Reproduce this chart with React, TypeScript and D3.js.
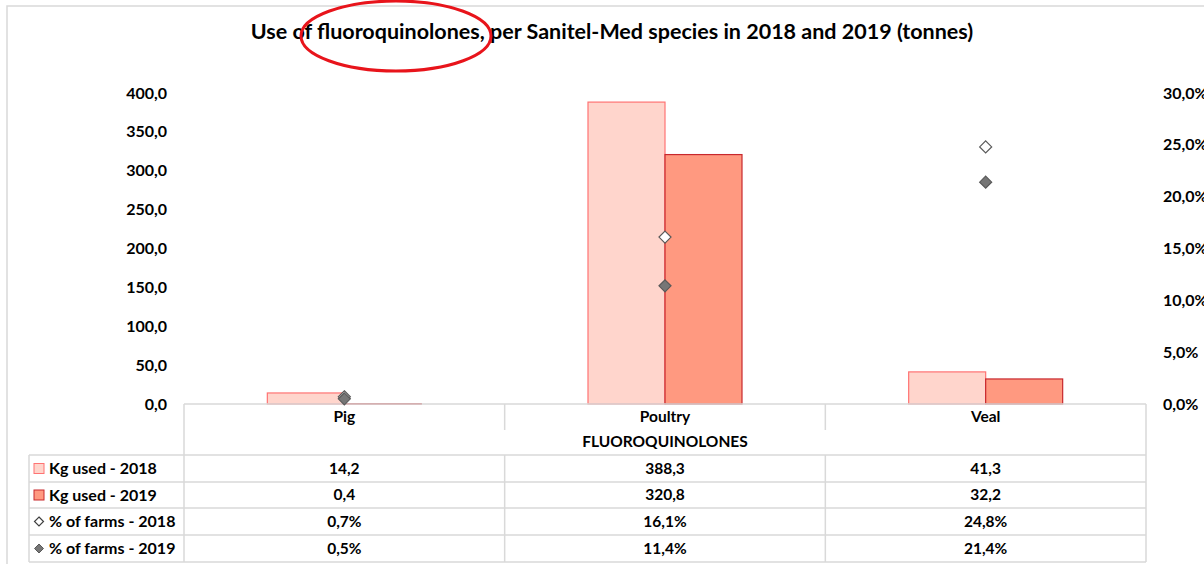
import React from "react";
import * as d3 from "d3";

const categories = ["Pig", "Poultry", "Veal"];
const kg2018 = [14.2, 388.3, 41.3];
const kg2019 = [0.4, 320.8, 32.2];
const farms2018 = [0.7, 16.1, 24.8];
const farms2019 = [0.5, 11.4, 21.4];
const leftTicks = [0, 50, 100, 150, 200, 250, 300, 350, 400];
const rightTicks = [0, 5, 10, 15, 20, 25, 30];
const groupLabel = "FLUOROQUINOLONES";
const title = "Use of fluoroquinolones, per Sanitel-Med species in 2018 and 2019 (tonnes)";

const locale = d3.formatLocale({ decimal: ",", thousands: ".", grouping: [3], currency: ["", "€"] });
const fmt1 = locale.format(".1f");

const W = 1204;
const H = 564;
const FONT = "Lato, 'Open Sans', sans-serif";

const App = () => {
  const plotLeft = 184;
  const plotRight = 1146;
  const yTop = 93;
  const yBase = 404;

  const x = d3.scaleBand().domain(categories).range([plotLeft, plotRight]).paddingInner(0).paddingOuter(0);
  const yKg = d3.scaleLinear().domain([0, 400]).range([yBase, yTop]);
  const yPct = d3.scaleLinear().domain([0, 30]).range([yBase, yTop]);
  const barW = 77;

  const rowLines = [455, 482, 508, 535, 562];
  const legendLeft = 29;

  const rows = [
    { label: "Kg used - 2018", vals: kg2018.map((v) => fmt1(v)), icon: "sq18" },
    { label: "Kg used - 2019", vals: kg2019.map((v) => fmt1(v)), icon: "sq19" },
    { label: "% of farms - 2018", vals: farms2018.map((v) => fmt1(v) + "%"), icon: "d18" },
    { label: "% of farms - 2019", vals: farms2019.map((v) => fmt1(v) + "%"), icon: "d19" },
  ];

  const diamond = (cx: number, cy: number, r: number) =>
    `M${cx},${cy - r}L${cx + r},${cy}L${cx},${cy + r}L${cx - r},${cy}Z`;

  const gridColor = "#d9d9d9";
  const fs = 15.5;

  return (
    <svg width={W} height={H} style={{ position: "absolute", left: 0, top: 0, background: "#fff" }} fontFamily={FONT}>
      {/* chart frame */}
      <rect x={7} y={6} width={W + 10} height={H + 10} fill="none" stroke={gridColor} strokeWidth={1.5} />

      <text x={612} y={39} textAnchor="middle" fontSize={21.5} fontWeight={700} fill="#000">
        {title}
      </text>

      {/* left axis */}
      {leftTicks.map((t) => (
        <text key={"l" + t} x={167} y={yKg(t)} dy="0.35em" textAnchor="end" fontSize={16} fontWeight={700}>
          {fmt1(t)}
        </text>
      ))}
      {/* right axis */}
      {rightTicks.map((t) => (
        <text key={"r" + t} x={1163} y={yPct(t)} dy="0.35em" textAnchor="start" fontSize={16} fontWeight={700}>
          {fmt1(t) + "%"}
        </text>
      ))}

      {/* bars */}
      {categories.map((c, i) => {
        const cx = x(c)! + x.bandwidth() / 2;
        return (
          <g key={"b" + c}>
            <rect x={cx - barW} y={yKg(kg2018[i])} width={barW} height={yBase - yKg(kg2018[i])}
              fill="#ffd5cc" stroke="#ff7373" strokeWidth={1.2} />
            <rect x={cx} y={yKg(kg2019[i])} width={barW} height={yBase - yKg(kg2019[i])}
              fill="#ff9980" stroke="#c8282d" strokeWidth={1.2} />
          </g>
        );
      })}

      {/* table lines */}
      <line x1={plotLeft} x2={plotRight} y1={yBase} y2={yBase} stroke={gridColor} strokeWidth={1.5} />
      <line x1={plotLeft} x2={plotLeft} y1={yBase} y2={rowLines[rowLines.length - 1]} stroke={gridColor} strokeWidth={1.5} />
      <line x1={plotRight} x2={plotRight} y1={yBase} y2={rowLines[rowLines.length - 1]} stroke={gridColor} strokeWidth={1.5} />
      {categories.slice(1).map((c) => (
        <line key={"hv" + c} x1={x(c)!} x2={x(c)!} y1={yBase} y2={430} stroke={gridColor} strokeWidth={1.5} />
      ))}
      {categories.slice(1).map((c) => (
        <line key={"tv" + c} x1={x(c)!} x2={x(c)!} y1={rowLines[0]} y2={rowLines[rowLines.length - 1]} stroke={gridColor} strokeWidth={1.5} />
      ))}
      <line x1={legendLeft} x2={legendLeft} y1={rowLines[0]} y2={rowLines[rowLines.length - 1]} stroke={gridColor} strokeWidth={1.5} />
      {rowLines.map((ry) => (
        <line key={"h" + ry} x1={legendLeft} x2={plotRight} y1={ry} y2={ry} stroke={gridColor} strokeWidth={1.5} />
      ))}

      {/* diamonds */}
      {categories.map((c, i) => {
        const cx = x(c)! + x.bandwidth() / 2;
        return (
          <g key={"d" + c}>
            <path d={diamond(cx, yPct(farms2018[i]), 6)} fill="#fff" stroke="#595959" strokeWidth={1.2} />
            <path d={diamond(cx, yPct(farms2019[i]), 6)} fill="#767676" stroke="#595959" strokeWidth={1.2} />
          </g>
        );
      })}

      {/* category header */}
      {categories.map((c) => (
        <text key={"c" + c} x={x(c)! + x.bandwidth() / 2} y={417} dy="0.35em" textAnchor="middle" fontSize={fs} fontWeight={700}>
          {c}
        </text>
      ))}
      <text x={(plotLeft + plotRight) / 2} y={442} dy="0.35em" textAnchor="middle" fontSize={fs} fontWeight={700}>
        {groupLabel}
      </text>

      {/* data table rows */}
      {rows.map((r, ri) => {
        const cy = (rowLines[ri] + rowLines[ri + 1]) / 2;
        let icon;
        if (r.icon === "sq18") icon = <rect x={34} y={cy - 5} width={10} height={10} fill="#ffd5cc" stroke="#ff7373" />;
        else if (r.icon === "sq19") icon = <rect x={34} y={cy - 5} width={10} height={10} fill="#ff9980" stroke="#c8282d" />;
        else if (r.icon === "d18") icon = <path d={diamond(39, cy, 4.5)} fill="#fff" stroke="#404040" strokeWidth={1.2} />;
        else icon = <path d={diamond(39, cy, 4.5)} fill="#767676" stroke="#595959" strokeWidth={1} />;
        return (
          <g key={"row" + ri}>
            {icon}
            <text x={49} y={cy} dy="0.35em" fontSize={16} fontWeight={700}>{r.label}</text>
            {categories.map((c, ci) => (
              <text key={c} x={x(c)! + x.bandwidth() / 2} y={cy} dy="0.35em" textAnchor="middle" fontSize={fs} fontWeight={700}>
                {r.vals[ci]}
              </text>
            ))}
          </g>
        );
      })}

      {/* red annotation ellipse */}
      <ellipse cx={396} cy={36} rx={95} ry={35} fill="none" stroke="#e8141b" strokeWidth={3} />
    </svg>
  );
};

export default App;
